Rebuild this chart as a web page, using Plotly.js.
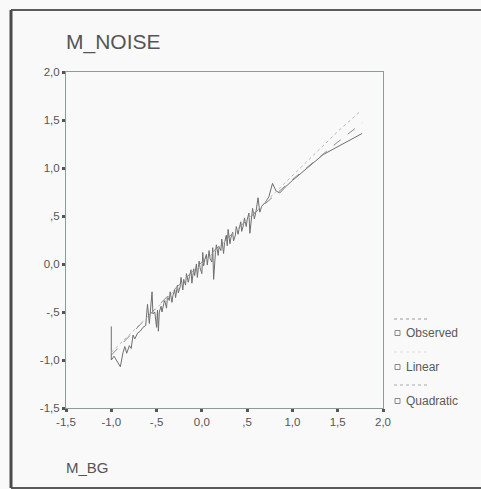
<!DOCTYPE html>
<html><head><meta charset="utf-8">
<script src="https://cdn.plot.ly/plotly-3.0.1.min.js"></script>
<style>html,body{margin:0;padding:0;background:#f9f9f9;}#chart{width:481px;height:489px;}</style>
</head><body><div id="chart"></div>
<script>
// Observed series (M_BG vs M_NOISE)
const obsX = [-1.00,-1.00,-0.97,-0.93,-0.90,-0.87,-0.85,-0.83,-0.80,-0.78,-0.76,-0.74,-0.71,-0.68,-0.65,-0.62,-0.60,-0.58,-0.55,-0.54,-0.52,-0.50,-0.49,-0.48,-0.47,-0.45,-0.44,-0.42,-0.41,-0.39,-0.38,-0.36,-0.35,-0.33,-0.32,-0.30,-0.29,-0.27,-0.26,-0.24,-0.23,-0.21,-0.20,-0.18,-0.17,-0.15,-0.14,-0.12,-0.11,-0.09,-0.08,-0.06,-0.05,-0.03,-0.02,0.00,0.01,0.02,0.03,0.05,0.06,0.08,0.09,0.11,0.12,0.13,0.15,0.16,0.18,0.19,0.21,0.22,0.24,0.25,0.27,0.28,0.29,0.31,0.32,0.34,0.35,0.37,0.38,0.40,0.41,0.43,0.44,0.46,0.47,0.49,0.50,0.52,0.53,0.55,0.56,0.58,0.60,0.62,0.64,0.66,0.70,0.74,0.78,0.82,0.86,0.92,1.00,1.34,1.77];
const obsY = [-0.65,-1.00,-0.96,-1.03,-1.07,-0.92,-0.86,-0.93,-0.85,-0.88,-0.74,-0.78,-0.72,-0.70,-0.66,-0.64,-0.42,-0.62,-0.29,-0.52,-0.50,-0.66,-0.48,-0.70,-0.50,-0.44,-0.50,-0.41,-0.38,-0.46,-0.34,-0.38,-0.29,-0.40,-0.33,-0.27,-0.35,-0.22,-0.30,-0.24,-0.14,-0.27,-0.16,-0.22,-0.10,-0.19,-0.14,-0.06,-0.20,-0.05,-0.12,0.00,-0.14,0.03,-0.04,-0.10,0.12,-0.02,0.04,0.10,-0.01,0.14,0.06,0.02,0.17,-0.16,0.12,0.20,0.09,0.18,0.14,0.26,0.11,0.22,0.30,0.19,0.36,0.21,0.27,0.33,0.24,0.30,0.39,0.31,0.36,0.44,0.34,0.41,0.48,0.39,0.46,0.53,0.32,0.50,0.58,0.47,0.56,0.69,0.54,0.60,0.64,0.70,0.84,0.76,0.74,0.80,0.87,1.14,1.36];
// Fitted curves
const linX = [-1.00,-0.50,0.00,0.50,1.00,1.50,1.76];
const linY = [-0.92,-0.46,0.00,0.46,0.92,1.38,1.60];
const quadX = [-1.00,-0.50,0.00,0.50,1.00,1.50,1.77];
const quadY = [-0.95,-0.45,0.02,0.46,0.88,1.27,1.47];
// Tick labels
const tickVals = [-1.5,-1.0,-0.5,0.0,0.5,1.0,1.5,2.0];
const tickText = ['-1,5','-1,0','-,5','0,0',',5','1,0','1,5','2,0'];

const F = 'Liberation Sans, Arial, sans-serif';
const traces = [
  {x: obsX, y: obsY, mode:'lines', line:{color:'#6f6f6f', width:1}, name:'Observed'},
  {x: linX, y: linY, mode:'lines', line:{color:'#b8b8b8', width:1, dash:'dot'}, name:'Linear'},
  {x: quadX, y: quadY, mode:'lines', line:{color:'#8a8a8a', width:1, dash:'dash'}, name:'Quadratic'}
];
function px2x(p){return (p-66)/317;}
function px2y(p){return (408-p)/336;}
const axisCommon = {range:[-1.5,2.0], tickvals:tickVals, ticktext:tickText, showgrid:false, zeroline:false,
  showline:true, mirror:true, linecolor:'#8f9c96', linewidth:1, ticks:'outside', ticklen:3, tickwidth:3, tickcolor:'#555',
  tickfont:{family:F, size:11.5, color:'#555'}, fixedrange:true};
const legendItems = [
  {label:'Observed', y:333, ly:319, lc:'#9a9a9a', ld:'dot'},
  {label:'Linear', y:367, ly:352, lc:'#dddddd', ld:'dot'},
  {label:'Quadratic', y:401, ly:385, lc:'#aaaaaa', ld:'dot'}
];
const annotations = [
  {text:'M_NOISE', xref:'paper', yref:'paper', x:px2x(64), y:px2y(42), xanchor:'left', yanchor:'middle', showarrow:false, font:{family:F, size:21, color:'#555'}},
  {text:'M_BG', xref:'paper', yref:'paper', x:px2x(64), y:px2y(467), xanchor:'left', yanchor:'middle', showarrow:false, font:{family:F, size:15, color:'#555'}}
];
const shapes = [
  {type:'line', xref:'paper', yref:'paper', x0:px2x(11), x1:px2x(481), y0:px2y(10), y1:px2y(10), line:{color:'#5a5a5a', width:2}},
  {type:'line', xref:'paper', yref:'paper', x0:px2x(11), x1:px2x(481), y0:px2y(488), y1:px2y(488), line:{color:'#5a5a5a', width:2}},
  {type:'line', xref:'paper', yref:'paper', x0:px2x(11), x1:px2x(11), y0:px2y(488), y1:px2y(10), line:{color:'#4a4a4a', width:3}}
];
legendItems.forEach(it=>{
  annotations.push({text:it.label, xref:'paper', yref:'paper', x:px2x(404), y:px2y(it.y), xanchor:'left', yanchor:'middle', showarrow:false, font:{family:F, size:12, color:'#5a5a5a'}});
  shapes.push({type:'rect', xref:'paper', yref:'paper', x0:px2x(395), x1:px2x(400), y0:px2y(it.y+2.5), y1:px2y(it.y-2.5), line:{color:'#888', width:1}});
  shapes.push({type:'line', xref:'paper', yref:'paper', x0:px2x(394), x1:px2x(428), y0:px2y(it.ly), y1:px2y(it.ly), line:{color:it.lc, width:1, dash:it.ld}});
});
const layout = {
  width:481, height:489, paper_bgcolor:'#f9f9f9', plot_bgcolor:'#f9f9f9',
  margin:{l:66, r:98, t:72, b:81}, showlegend:false,
  xaxis:Object.assign({}, axisCommon),
  yaxis:Object.assign({}, axisCommon, {range:[-1.5,2.0]}),
  annotations:annotations, shapes:shapes
};
Plotly.newPlot('chart', traces, layout, {displayModeBar:false, staticPlot:true});
</script></body></html>
